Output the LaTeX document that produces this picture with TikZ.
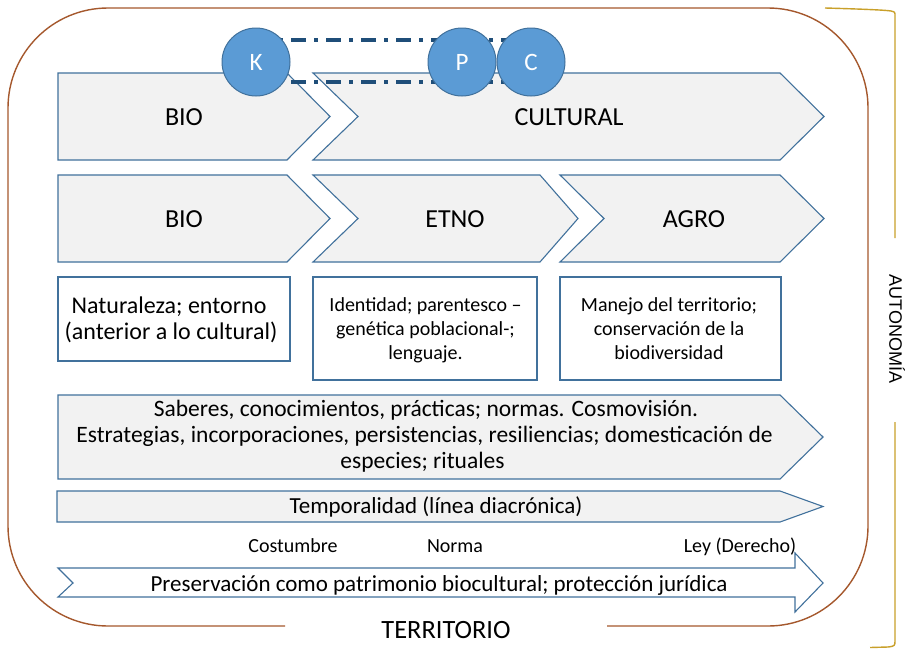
\documentclass[tikz,border=0pt]{standalone}
\usepackage{fontspec}
\setmainfont{Carlito}
\newfontfamily\arialf{Liberation Sans}
\definecolor{cblue}{HTML}{41719C}
\definecolor{cgray}{HTML}{F2F2F2}
\definecolor{cfill}{HTML}{5B9BD5}
\definecolor{cdash}{HTML}{1F4E79}
\definecolor{cbrown}{HTML}{A5582D}
\definecolor{cgold}{HTML}{C9A02A}
\newcommand{\fs}[1]{\fontsize{#1}{#1}\selectfont}
\begin{document}
\begin{tikzpicture}[x=1pt,y=-1pt,
  shp/.style={draw=cblue, fill=cgray, line width=1.1pt, line join=miter},
  tbox/.style={draw=cblue, fill=white, line width=1.1pt},
  circ/.style={circle, draw=cblue, fill=cfill, line width=1pt, minimum size=68pt, inner sep=0pt, text=white, font=\fs{25}},
  lbl/.style={inner sep=0pt, anchor=base},
  dd/.style={draw=cdash, line width=3.4pt, dash pattern=on 15pt off 8pt on 4pt off 8pt},
  frame/.style={draw=cbrown, line width=1.4pt},
  brace/.style={draw=cgold, line width=1.4pt}]
\useasboundingbox (0,0) rectangle (909,648);
\fill[white] (0,0) rectangle (909,648);
% outer frame
\draw[frame, rounded corners=100pt] (285,626) -- (8,626) -- (8,8) -- (868,8) -- (868,626) -- (607,626);
% right brace
\draw[brace] (825,8) .. controls (860,9) and (885,10) .. (891,11) .. controls (895,12) .. (895,16) -- (895,238);
\draw[brace] (895,422) -- (895,640) .. controls (895,646) .. (888,647) -- (870,647.5);
% row 1
\draw[shp] (58,73) -- (287,73) -- (330,116.5) -- (287,160) -- (58,160) -- cycle;
\draw[shp] (313,73) -- (780,73) -- (824,116.5) -- (780,160) -- (313,160) -- (358,116.5) -- cycle;
% row 2
\draw[shp] (58,175) -- (287,175) -- (330,218.5) -- (287,262) -- (58,262) -- cycle;
\draw[shp] (313,175) -- (540,175) -- (578,218.5) -- (540,262) -- (313,262) -- (358,218.5) -- cycle;
\draw[shp] (560,175) -- (780,175) -- (824,218.5) -- (780,262) -- (560,262) -- (604,218.5) -- cycle;
% text boxes
\draw[tbox] (58,277) rectangle (290,361);
\draw[tbox] (313,277) rectangle (537,380);
\draw[tbox] (560,277) rectangle (781,380);
% saberes
\draw[shp] (58,395) -- (780,395) -- (823,437) -- (780,479) -- (58,479) -- cycle;
% temporalidad
\draw[shp] (57,491) -- (780,491) -- (823,506.5) -- (780,522) -- (57,522) -- cycle;
% preservacion
\draw[tbox] (58,568) -- (795,568) -- (795,553) -- (823,583) -- (795,612) -- (795,597) -- (58,597) -- (73,583) -- cycle;
% circle centres and dash-dot connectors
\coordinate (Kc) at (256,62);
\coordinate (Pc) at (462,62);
\coordinate (Cc) at (531,62);
\draw[dd] ([yshift=22pt]Kc) -- ([yshift=22pt]Cc);
\draw[dd] ([yshift=-20pt]Kc) -- ([yshift=-20pt]Cc);
\node[circ] (K) at (Kc) {K};
\node[circ] (P) at (Pc) {P};
\node[circ] (C) at (Cc) {C};
% labels row 1/2
\node[lbl, font=\fs{26}] (bio1) at (184,125.5) {BIO};
\node[lbl, font=\fs{26}] (cult) at (569,125.5) {CULTURAL};
\node[lbl, font=\fs{26}] (bio2) at (184,227.5) {BIO};
\node[lbl, font=\fs{26}] (etno) at (455,227.5) {ETNO};
\node[lbl, font=\fs{26}] (agro) at (694,227.5) {AGRO};
% box texts
\node[lbl, font=\fs{24}] (n1) at (169,313.5) {Naturaleza; entorno};
\node[lbl, font=\fs{24}] (n2) at (171,339.5) {(anterior a lo cultural)};
\node[lbl, font=\fs{20}] (i1) at (425.5,311.5) {Identidad; parentesco –};
\node[lbl, font=\fs{20}] (i2) at (425.5,335.5) {genética poblacional-;};
\node[lbl, font=\fs{20}] (i3) at (425.5,359.5) {lenguaje.};
\node[lbl, font=\fs{20}] (m1) at (669,311.5) {Manejo del territorio;};
\node[lbl, font=\fs{20}] (m2) at (669,335.5) {conservación de la};
\node[lbl, font=\fs{20}] (m3) at (669,359.5) {biodiversidad};
% saberes text
\node[lbl, font=\fs{23.5}] (s1) at (426,416.5) {Saberes, conocimientos, prácticas; normas. Cosmovisión.};
\node[lbl, font=\fs{23.5}] (s2) at (424.5,442.5) {Estrategias, incorporaciones, persistencias, resiliencias; domesticación de};
\node[lbl, font=\fs{23.5}] (s3) at (422.5,468) {especies; rituales};
\node[lbl, font=\fs{23}] (temp) at (436,513.5) {Temporalidad (línea diacrónica)};
\node[lbl, font=\fs{20}] (cost) at (293,552.5) {Costumbre};
\node[lbl, font=\fs{20}] (norma) at (455,552.5) {Norma};
\node[lbl, font=\fs{20}] (ley) at (740,552.5) {Ley (Derecho)};
\node[lbl, font=\fs{23}] (pres) at (439,591) {Preservación como patrimonio biocultural; protección jurídica};
\node[lbl, font=\fs{26.4}] (terr) at (446,638.5) {TERRITORIO};
\node[inner sep=0pt, rotate=-90, font=\arialf\fs{18}] (auto) at (897,329) {AUTONOMÍA};
\end{tikzpicture}
\end{document}
